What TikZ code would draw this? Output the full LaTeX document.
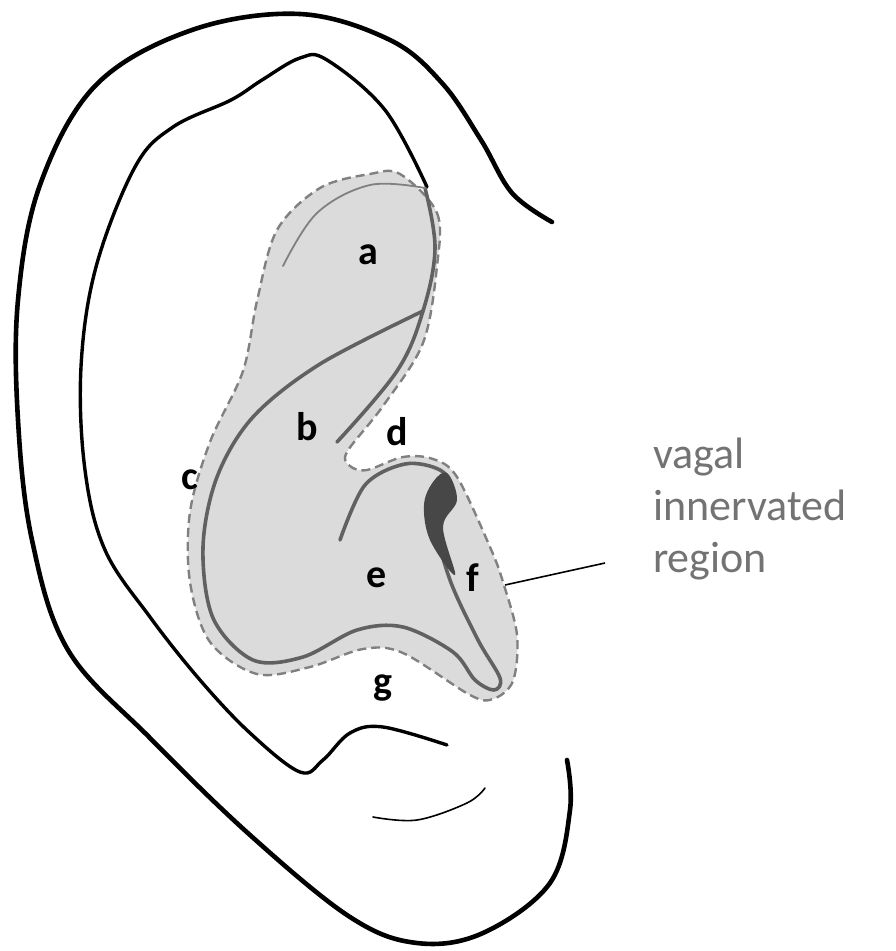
\documentclass[tikz,border=0pt]{standalone}
\usepackage{fontspec}
\setmainfont{Carlito}
\begin{document}
\begin{tikzpicture}[x=1pt,y=-1pt,
  blackline/.style={line width=3.4pt,line cap=round,line join=round},
  innerline/.style={draw=black!62,line width=3.6pt,line cap=round,line join=round},
  thinline/.style={draw=black!50,line width=1.8pt,line cap=round},
  letter/.style={font=\bfseries\fontsize{40}{40}\selectfont},
  label/.style={font=\fontsize{44}{52}\selectfont,text=black!55,align=left,anchor=north west,inner sep=0pt}]
\useasboundingbox (0,0) rectangle (896,951);
% region
\draw[fill=black!14,draw=black!50,dash pattern=on 9pt off 5pt,line width=2.4pt]
 plot[smooth cycle,tension=0.55] coordinates{(400,174) (437,213) (437,266) (423,343) (383,406) (347,452) (350,466) (367,470) (403,457) (433,459) (457,477) (490,547) (503,582) (517,635) (513,681) (493,699) (470,695) (403,653) (363,649) (310,667) (257,674) (210,642) (190,582) (190,512) (210,442) (243,371) (257,301) (277,230) (320,188) (370,174)};
% outer ear
\draw[line width=4.6pt,line cap=round,line join=round] plot[smooth,tension=0.6] coordinates{(552,222) (512,193) (481,140) (442,83) (390,40) (300,14) (192,30) (96,85) (40,185) (18,300) (18,420) (32,540) (68,650) (150,738) (250,835) (350,917) (417,943) (483,933) (550,883) (570,810) (567,760)};
\draw[blackline] plot[smooth,tension=0.6] coordinates{(427,187) (385,110) (327,60) (300,58) (262,80) (231,100) (173,127) (135,167) (96,267) (81,367) (85,470) (105,550) (150,617) (200,680) (250,733) (300,772) (323,760) (350,733) (383,727) (447,745)};
% inner lines
\draw[innerline] plot[smooth,tension=0.6] coordinates{(425,188) (435,248) (423,311) (397,371) (337,442)};
\draw[thinline] plot[smooth,tension=0.6] coordinates{(425,188) (370,185) (317,213) (283,266)};
\draw[innerline] plot[smooth,tension=0.55] coordinates{(340,540) (365,485) (405,464) (440,470) (452,490) (437,525) (450,580) (478,640) (500,678) (494,690) (475,680) (453,652) (403,627) (357,630) (303,657) (253,660) (213,618) (203,547) (217,477) (253,417) (320,364) (423,311)};
\fill[black!72] plot[smooth cycle,tension=0.6] coordinates{(447,473) (457,500) (443,527) (455,575) (430,540) (424,505) (433,482)};
% lobule
\draw[line width=1.6pt,line cap=round] plot[smooth,tension=0.6] coordinates{(373,817) (417,820) (467,803) (485,788)};
% letters
\node[letter] (la) at (368,255) {a};
\node[letter] (lb) at (307,427) {b};
\node[letter] (lc) at (190,480) {c};
\node[letter] (ld) at (397,432) {d};
\node[letter] (le) at (377,578) {e};
\node[letter] (lf) at (473,578) {f};
\node[letter] (lg) at (383,688) {g};
\node[label] (txt) at (653,438) {vagal\\innervated\\region};
\coordinate (pt) at (505,585);
\draw[line width=1.6pt] (pt) -- (605,563);
\end{tikzpicture}
\end{document}
